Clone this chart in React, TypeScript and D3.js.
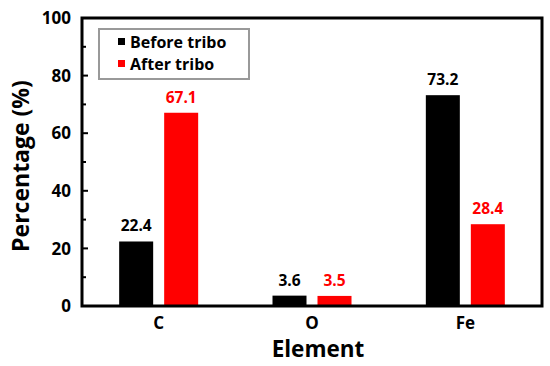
import React, { useRef, useEffect } from 'react';
import * as d3 from 'd3';

const elements = ['C', 'O', 'Fe'];
const beforeTribo = [22.4, 3.6, 73.2];
const afterTribo = [67.1, 3.5, 28.4];
const seriesNames = ['Before tribo', 'After tribo'];
const seriesColors = ['#000000', '#ff0000'];
const yTicks = [0, 20, 40, 60, 80, 100];
const yMinorTicks = [10, 30, 50, 70, 90];

export default function App() {
  const ref = useRef<SVGSVGElement>(null);

  useEffect(() => {
    const width = 550;
    const height = 366;
    const marginTop = 18;
    const marginRight = 8;
    const marginBottom = 60;
    const marginLeft = 82;
    const font = '"Open Sans", "Noto Sans", sans-serif';

    const svg = d3.select(ref.current);
    svg.selectAll('*').remove();

    const x = d3.scaleBand()
      .domain(elements)
      .range([marginLeft, width - marginRight])
      .padding(0);

    const y = d3.scaleLinear()
      .domain([0, 100])
      .range([height - marginBottom, marginTop]);

    const barW = 34;
    const gap = 11;
    const series = [beforeTribo, afterTribo];

    series.forEach((vals, si) => {
      const offset = si === 0 ? -gap / 2 - barW : gap / 2;
      const g = svg.append('g');
      g.selectAll('rect')
        .data(elements)
        .join('rect')
        .attr('x', d => x(d)! + x.bandwidth() / 2 + offset)
        .attr('y', (d, i) => y(vals[i]))
        .attr('width', barW)
        .attr('height', (d, i) => y(0) - y(vals[i]))
        .attr('fill', seriesColors[si]);
      g.selectAll('text')
        .data(elements)
        .join('text')
        .attr('x', d => x(d)! + x.bandwidth() / 2 + offset + barW / 2)
        .attr('y', (d, i) => y(vals[i]) - 10)
        .attr('text-anchor', 'middle')
        .attr('font-family', font)
        .attr('font-weight', 700)
        .attr('font-size', 15.5)
        .attr('fill', seriesColors[si])
        .text((d, i) => vals[i].toFixed(1));
    });

    // frame
    svg.append('rect')
      .attr('x', marginLeft)
      .attr('y', marginTop)
      .attr('width', width - marginLeft - marginRight)
      .attr('height', height - marginTop - marginBottom)
      .attr('fill', 'none')
      .attr('stroke', '#000')
      .attr('stroke-width', 3);

    // y axis ticks (inward)
    const yAxis = svg.append('g');
    yAxis.selectAll('line.major')
      .data(yTicks)
      .join('line')
      .attr('class', 'major')
      .attr('x1', marginLeft)
      .attr('x2', marginLeft + 6)
      .attr('y1', d => y(d))
      .attr('y2', d => y(d))
      .attr('stroke', '#000')
      .attr('stroke-width', 2);
    yAxis.selectAll('line.minor')
      .data(yMinorTicks)
      .join('line')
      .attr('class', 'minor')
      .attr('x1', marginLeft)
      .attr('x2', marginLeft + 4)
      .attr('y1', d => y(d))
      .attr('y2', d => y(d))
      .attr('stroke', '#000')
      .attr('stroke-width', 2);
    yAxis.selectAll('text')
      .data(yTicks)
      .join('text')
      .attr('x', marginLeft - 11)
      .attr('y', d => y(d))
      .attr('dy', '0.36em')
      .attr('text-anchor', 'end')
      .attr('font-family', font)
      .attr('font-weight', 700)
      .attr('font-size', 17)
      .text(d => d);

    // x labels
    svg.append('g').selectAll('text')
      .data(elements)
      .join('text')
      .attr('x', d => x(d)! + x.bandwidth() / 2)
      .attr('y', y(0) + 23)
      .attr('text-anchor', 'middle')
      .attr('font-family', font)
      .attr('font-weight', 700)
      .attr('font-size', 17)
      .text(d => d);

    svg.append('text')
      .attr('x', (marginLeft + width - marginRight) / 2 + 6)
      .attr('y', 357)
      .attr('text-anchor', 'middle')
      .attr('font-family', font)
      .attr('font-weight', 700)
      .attr('font-size', 22.5)
      .text('Element');

    svg.append('text')
      .attr('transform', `translate(29,${166}) rotate(-90)`)
      .attr('text-anchor', 'middle')
      .attr('font-family', font)
      .attr('font-weight', 700)
      .attr('font-size', 23)
      .text('Percentage (%)');

    // legend
    const legend = svg.append('g');
    legend.append('rect')
      .attr('x', 99)
      .attr('y', 29)
      .attr('width', 150)
      .attr('height', 50)
      .attr('fill', '#fff')
      .attr('stroke', '#999')
      .attr('stroke-width', 2);
    seriesNames.forEach((name, i) => {
      const cy = 42 + i * 22;
      legend.append('rect')
        .attr('x', 118)
        .attr('y', cy - 4)
        .attr('width', 7)
        .attr('height', 7)
        .attr('fill', seriesColors[i]);
      legend.append('text')
        .attr('x', 130)
        .attr('y', cy)
        .attr('dy', '0.36em')
        .attr('font-family', font)
        .attr('font-weight', 700)
        .attr('font-size', 16)
        .attr('fill', '#000')
        .text(name);
    });
  }, []);

  return <svg ref={ref} width={550} height={366} style={{ position: 'absolute', left: 0, top: 0 }} />;
}
